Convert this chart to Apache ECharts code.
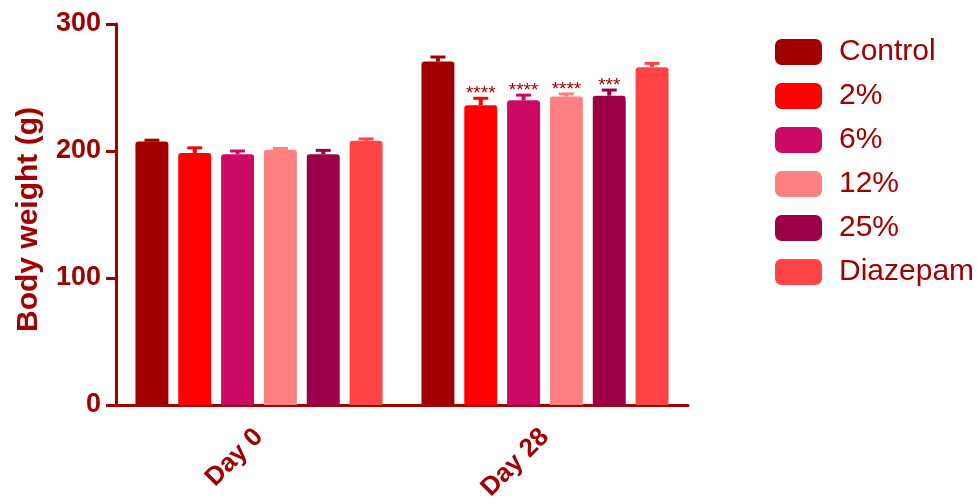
<!DOCTYPE html>
<html><head><meta charset="utf-8">
<script src="https://cdn.jsdelivr.net/npm/echarts@6/dist/echarts.min.js"></script>
<style>html,body{margin:0;padding:0;background:#fff}#c{width:977px;height:504px}</style>
</head><body><div id="c"></div>
<script>
const categories = ['Day 0', 'Day 28'];
const seriesNames = ['Control', '2%', '6%', '12%', '25%', 'Diazepam'];
const colors = ['#a00000', '#ff0000', '#cc0a64', '#ff8080', '#9c0049', '#ff4444'];
const means = [
  [207.5, 270.5],
  [198.5, 236],
  [197.5, 240],
  [201, 243],
  [197.5, 243.5],
  [208, 266]
];
const errors = [
  [1, 3.5],
  [4, 5.5],
  [2.5, 4],
  [1, 2],
  [3, 4.5],
  [1.5, 3]
];
const stars = [
  ['', ''],
  ['', '****'],
  ['', '****'],
  ['', '****'],
  ['', '***'],
  ['', '']
];
const yTicks = [0, 100, 200, 300];

const TXT = '#a00000';
const FONT = '"Liberation Sans", Arial, sans-serif';
const CAT_GAP = 0.136, BAR_GAP = 0.3, N = seriesNames.length;

const series = [];
seriesNames.forEach((name, i) => {
  series.push({
    name, type: 'bar', data: means[i],
    itemStyle: { color: colors[i], borderRadius: [3, 3, 0, 0] },
    barGap: (BAR_GAP * 100) + '%', barCategoryGap: (CAT_GAP * 100) + '%',
    z: 2
  });
});
seriesNames.forEach((name, i) => {
  series.push({
    type: 'custom', name: name + '_err',
    data: categories.map((c, j) => [j, means[i][j], means[i][j] + errors[i][j]]),
    z: 3,
    renderItem: (params, api) => {
      const j = api.value(0);
      const band = api.size([1, 0])[0];
      const inner = band * (1 - CAT_GAP);
      const bw = inner / (N + (N - 1) * BAR_GAP);
      const off = -inner / 2 + i * bw * (1 + BAR_GAP) + bw / 2;
      const pLow = api.coord([j, api.value(1)]);
      const pHigh = api.coord([j, api.value(2)]);
      const x = pLow[0] + off;
      const cap = 7.5;
      const children = [
        { type: 'line', shape: { x1: x, y1: pLow[1], x2: x, y2: pHigh[1] }, style: { stroke: colors[i], lineWidth: 4 } },
        { type: 'line', shape: { x1: x - cap, y1: pHigh[1], x2: x + cap, y2: pHigh[1] }, style: { stroke: colors[i], lineWidth: 3 } }
      ];
      const s = stars[i][j];
      if (s) {
        children.push({ type: 'text', style: { text: s, x: x, y: pHigh[1] + 5, align: 'center', verticalAlign: 'bottom', fill: TXT, font: '19px ' + FONT } });
      }
      return { type: 'group', children };
    }
  });
});

const chart = echarts.init(document.getElementById('c'));
chart.setOption({
  animation: false,
  color: colors,
  legend: {
    data: seriesNames,
    orient: 'vertical', left: 770, top: 32,
    itemWidth: 47, itemHeight: 26, itemGap: 14,
    icon: 'roundRect',
    textStyle: { color: TXT, fontSize: 30, fontFamily: FONT, padding: [0, 0, 0, 12] },
    selectedMode: false
  },
  grid: { left: 116, right: 289, top: 24, bottom: 99 },
  xAxis: {
    type: 'category', data: categories,
    axisLine: { lineStyle: { color: TXT, width: 3 } },
    axisTick: { alignWithLabel: true, length: 9, lineStyle: { width: 3, color: TXT }, interval: 0 },
    axisLabel: { rotate: 45, color: TXT, fontSize: 26, fontWeight: 'bold', fontFamily: FONT, margin: 28 }
  },
  yAxis: {
    type: 'value', min: 0, max: 300, interval: 100,
    name: 'Body weight (g)', nameLocation: 'middle', nameGap: 72,
    nameTextStyle: { color: TXT, fontSize: 30, fontWeight: 'bold', fontFamily: FONT, padding: [0, 10, 0, 0] },
    axisLine: { show: true, lineStyle: { color: TXT, width: 3 } },
    axisTick: { show: true, length: 10, lineStyle: { width: 3, color: TXT } },
    splitLine: { show: false },
    axisLabel: { color: TXT, fontSize: 27, fontWeight: 'bold', fontFamily: FONT, margin: 15,
      formatter: v => yTicks.includes(v) ? String(v) : '' }
  },
  series
});
</script></body></html>
